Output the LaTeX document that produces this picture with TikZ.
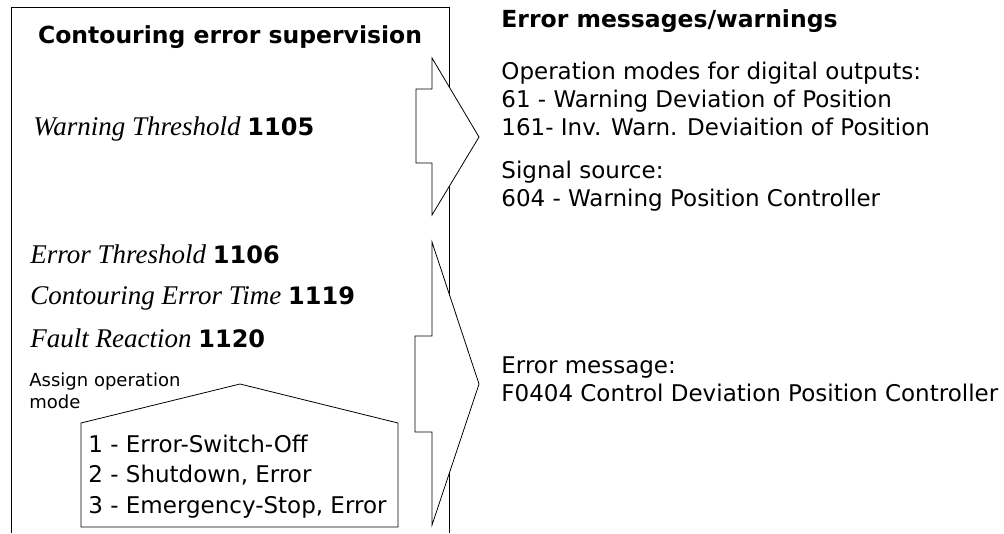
\documentclass[tikz,border=0pt]{standalone}
\usepackage{fontspec}
\setmainfont{Liberation Serif}
\setsansfont{DejaVu Sans}
\begin{document}
\begin{tikzpicture}[x=1pt,y=-1pt,
  line width=0.8pt,
  txt/.style={inner sep=0pt,anchor=base west,font=\sffamily\fontsize{23}{23}\selectfont},
  hdr/.style={inner sep=0pt,anchor=base west,font=\sffamily\bfseries\fontsize{23.5}{23.5}\selectfont},
  ital/.style={inner sep=0pt,anchor=base west,font=\itshape\fontsize{27}{27}\selectfont},
  smalltxt/.style={inner sep=0pt,anchor=base west,font=\sffamily\fontsize{18}{18}\selectfont},
  outl/.style={draw=black,fill=white}]
\useasboundingbox (0,0) rectangle (1004,533);
\fill[white] (0,0) rectangle (1004,533);
% outer box (open at the bottom)
\draw (11,533) -- (11,7) -- (449,7) -- (449,533);
% title
\node[hdr,anchor=base] (title) at (230,43) {Contouring error supervision};
% parameters
\newcommand{\pnum}[1]{{\sffamily\bfseries\upshape\fontsize{24}{24}\selectfont #1}}
\node[ital] (warn) at (33,135) {Warning Threshold \pnum{1105}};
\node[ital] (errt) at (30,263) {Error Threshold \pnum{1106}};
\node[ital] (cont) at (30,304) {Contouring Error Time \pnum{1119}};
\node[ital] (fault) at (30,347) {Fault Reaction \pnum{1120}};
\node[smalltxt] (assign1) at (29,386) {Assign operation};
\node[smalltxt] (assign2) at (29,408) {mode};
% house shape
\draw[outl] (81,527) -- (81,423) -- (240,384) -- (398,423) -- (398,527) -- cycle;
\node[txt] (m1) at (88,452) {1 - Error-Switch-Off};
\node[txt] (m2) at (88,482) {2 - Shutdown, Error};
\node[txt] (m3) at (88,513) {3 - Emergency-Stop, Error};
% block arrows
\draw[outl] (432,58) -- (479,137) -- (432,215) -- (432,163) -- (416,163) -- (416,89) -- (432,89) -- cycle;
\draw[outl] (432,242) -- (479,384) -- (432,525) -- (432,432) -- (415,432) -- (415,336) -- (432,336) -- cycle;
% right texts
\node[hdr] (emw) at (501,27) {Error messages/warnings};
\node[txt] (op) at (501,79) {Operation modes for digital outputs:};
\node[txt] (o61) at (501,107) {61 - Warning Deviation of Position};
\node[txt] (o161) at (501,135) {161- Inv. Warn. Deviaition of Position};
\node[txt] (sig) at (501,178) {Signal source:};
\node[txt] (s604) at (501,206) {604 - Warning Position Controller};
\node[txt] (em) at (501,373) {Error message:};
\node[txt] (f404) at (501,401) {F0404 Control Deviation Position Controller};
\end{tikzpicture}
\end{document}
